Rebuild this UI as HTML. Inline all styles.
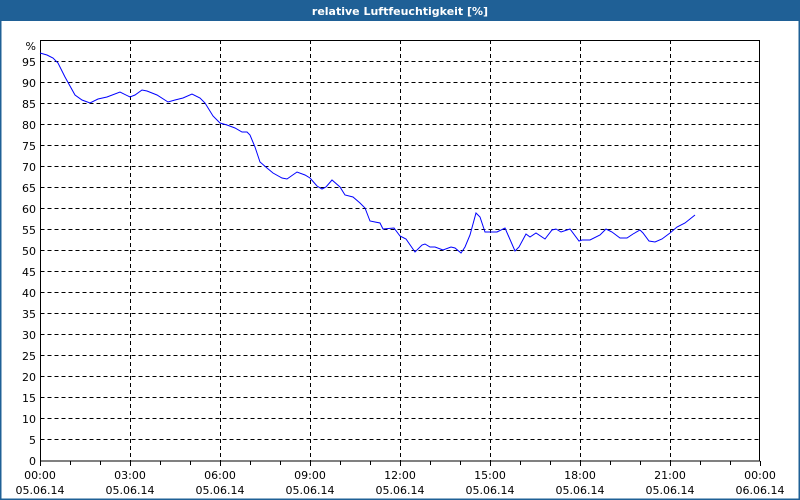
<!DOCTYPE html>
<html><head><meta charset="utf-8"><style>
html,body{margin:0;padding:0;background:#fff}
svg{display:block}
text{font-family:"DejaVu Sans","Liberation Sans",sans-serif;font-size:11px;fill:#000}
</style></head><body>
<svg width="800" height="500" viewBox="0 0 800 500" xmlns="http://www.w3.org/2000/svg">
<rect x="0" y="0" width="800" height="500" fill="#fff"/>
<rect x="0" y="0" width="800" height="21" fill="#1f6096"/>
<rect x="0" y="0" width="1.5" height="500" fill="#1f6096"/>
<rect x="798.5" y="0" width="1.5" height="500" fill="#1f6096"/>
<rect x="0" y="498.5" width="800" height="1.5" fill="#1f6096"/>
<text x="400" y="15" text-anchor="middle" style="fill:#fff;font-weight:bold;font-size:11px">relative Luftfeuchtigkeit [%]</text>
<g stroke="#000" stroke-width="1" stroke-dasharray="4,3" fill="none">
<path d="M40.5 61.5H760M40.5 82.5H760M40.5 103.5H760M40.5 124.5H760M40.5 145.5H760M40.5 166.5H760M40.5 187.5H760M40.5 208.5H760M40.5 229.5H760M40.5 250.5H760M40.5 271.5H760M40.5 292.5H760M40.5 313.5H760M40.5 334.5H760M40.5 355.5H760M40.5 376.5H760M40.5 397.5H760M40.5 418.5H760M40.5 439.5H760"/>
<path d="M130.5 40V461M220.5 40V461M310.5 40V461M400.5 40V461M490.5 40V461M580.5 40V461M670.5 40V461"/>
</g>
<rect x="40.5" y="40.5" width="719" height="420.5" fill="none" stroke="#000" stroke-width="1"/>
<g stroke="#000" stroke-width="1">
<path d="M40.5 461v5M70.5 461v4M100.5 461v4M130.5 461v5M160.5 461v4M190.5 461v4M220.5 461v5M250.5 461v4M280.5 461v4M310.5 461v5M340.5 461v4M370.5 461v4M400.5 461v5M430.5 461v4M460.5 461v4M490.5 461v5M520.5 461v4M550.5 461v4M580.5 461v5M610.5 461v4M640.5 461v4M670.5 461v5M700.5 461v4M730.5 461v4M760.5 461v5"/>
</g>
<g text-anchor="end">
<text x="36" y="50">%</text>
<text x="36" y="66">95</text><text x="36" y="87">90</text><text x="36" y="108">85</text><text x="36" y="129">80</text><text x="36" y="150">75</text><text x="36" y="171">70</text><text x="36" y="192">65</text><text x="36" y="213">60</text><text x="36" y="234">55</text><text x="36" y="255">50</text><text x="36" y="276">45</text><text x="36" y="297">40</text><text x="36" y="318">35</text><text x="36" y="339">30</text><text x="36" y="360">25</text><text x="36" y="381">20</text><text x="36" y="402">15</text><text x="36" y="423">10</text><text x="36" y="444">5</text><text x="36" y="465">0</text>
</g>
<g text-anchor="middle">
<text x="40" y="479">00:00</text><text x="40" y="494">05.06.14</text>
<text x="130" y="479">03:00</text><text x="130" y="494">05.06.14</text>
<text x="220" y="479">06:00</text><text x="220" y="494">05.06.14</text>
<text x="310" y="479">09:00</text><text x="310" y="494">05.06.14</text>
<text x="400" y="479">12:00</text><text x="400" y="494">05.06.14</text>
<text x="490" y="479">15:00</text><text x="490" y="494">05.06.14</text>
<text x="580" y="479">18:00</text><text x="580" y="494">05.06.14</text>
<text x="670" y="479">21:00</text><text x="670" y="494">05.06.14</text>
<text x="760" y="479">00:00</text><text x="760" y="494">06.06.14</text>
</g>
<polyline fill="none" stroke="#0000ff" stroke-width="1" points="40,53 47,55 53,58 58,63 65,77 75,95 82,100 90,103 98,99 107,97 120,92 130,97 135,95 142,90 147,91 157,95 168,102 175,100 183,98 192,94 200,98 205,103 213,116 220,123 227,125 235,128 242,132 247,132 250,135 255,147 260,162 267,168 273,173 282,178 287,179 297,172 305,175 310,178 317,186 322,189 326,187 332,180 340,187 345,195 353,197 360,203 365,208 370,221 375,222 380,223 383,229 394,228 400,236 406,239 415,252 422,245 425,244 430,247 435,247 443,250 451,247 455,248 461,253 465,247 470,235 476,213 480,217 485,232 497,232 505,228 515,251 519,247 526,234 530,237 536,233 545,239 552,230 556,229 561,232 570,229 579,241 582,240 590,240 600,235 606,229 612,232 620,238 627,238 633,234 640,230 643,233 649,241 655,242 662,239 670,233 677,227 685,223 695,215"/>
</svg>
</body></html>
